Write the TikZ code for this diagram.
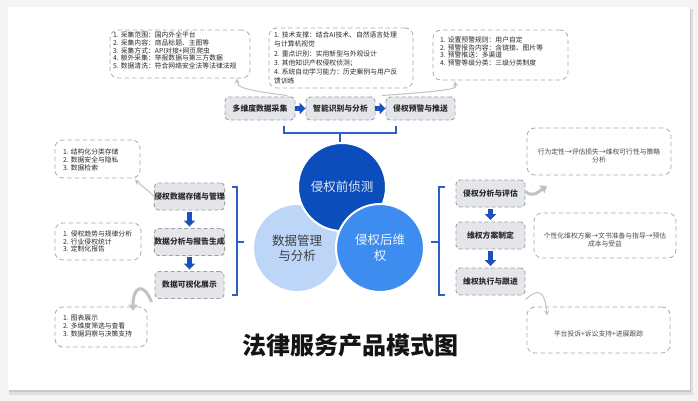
\documentclass[tikz,border=0pt]{standalone}
\usepackage{fontspec}
\setmainfont{Noto Sans CJK SC}
\usetikzlibrary{arrows.meta}
\definecolor{boxfill}{HTML}{E4E6EA}
\definecolor{boxline}{HTML}{9DA2A8}
\definecolor{noteline}{HTML}{A8ACB1}
\definecolor{txt}{HTML}{2A2A2A}
\definecolor{arrowblue}{HTML}{1C50BE}
\definecolor{bracketblue}{HTML}{2B61C6}
\definecolor{cdark}{HTML}{0B4DBB}
\definecolor{cmid}{HTML}{3D8CF0}
\definecolor{clight}{HTML}{BDD6F8}
\definecolor{curvegray}{HTML}{BFC2C6}
\definecolor{bggray}{HTML}{F4F4F4}
\definecolor{shadowgray}{HTML}{C9C9C9}
\begin{document}
\begin{tikzpicture}[x=1pt,y=-1pt,
  stepbox/.style={draw=boxline, fill=boxfill, dash pattern=on 4pt off 2.5pt, line width=0.9pt,
    rounded corners=4pt, minimum width=69pt, minimum height=26pt, inner sep=0pt,
    font=\bfseries\fontsize{7.8}{9}\selectfont, text=txt},
  notebox/.style={draw=noteline, fill=white, dash pattern=on 4.5pt off 3pt, line width=0.8pt,
    rounded corners=8pt, inner sep=0pt},
  notetext/.style={font=\fontsize{6.8}{7.8}\selectfont, text=txt, inner sep=0pt, align=left},
  notetextc/.style={font=\fontsize{6.8}{8.2}\selectfont, text=txt!85, inner sep=0pt, align=center},
  blockarrow/.style={line width=4.2pt, draw=arrowblue, -{Triangle[length=6pt,width=11pt]}},
  bracket/.style={draw=bracketblue, line width=1.2pt},
  thincurve/.style={draw=curvegray, line width=1pt, -{Stealth[length=5pt,width=5pt]}},
  thickcurve/.style={draw=curvegray, line width=3pt, -{Triangle[length=6pt,width=9pt]}},
  bigcircle/.style={circle, minimum size=88pt, draw=white, line width=2pt, inner sep=0pt,
    align=center, font=\fontsize{12.5}{15.5}\selectfont}
]
% background and card
\fill[bggray] (0,0) rectangle (698,401);
\fill[shadowgray!60] (9,9) rectangle (693,395);
\fill[shadowgray] (9,9) rectangle (691,392);
\fill[white] (8,7) rectangle (690,390);

% top notes
\node[notebox, minimum width=140pt, minimum height=48pt] (nt1) at (180,54) {};
\node[notetext, anchor=west] (tt1) at (113,50.5) {1. 采集范围：国内外全平台\\2. 采集内容：商品标题、主图等\\3. 采集方式：API对接+网页爬虫\\4. 额外采集：举报数据与第三方数据\\5. 数据清洗：符合网络安全法等法律法规};
\node[notebox, minimum width=144pt, minimum height=60pt] (nt2) at (341,58) {};
\node[notetext, anchor=west, font=\fontsize{6.8}{9.2}\selectfont] (tt2) at (274,58) {1. 技术支撑：结合AI技术、自然语言处理\\与计算机视觉\\2. 重点识别：实用新型与外观设计\\3. 其他知识产权侵权侦测；\\4. 系统自动学习能力：历史案例与用户反\\馈训练};
\node[notebox, minimum width=135pt, minimum height=50pt] (nt3) at (500.5,55) {};
\node[notetext, anchor=west] (tt3) at (440,51.5) {1. 设置预警规则：用户自定\\2. 预警报告内容：含链接、图片等\\3. 预警推送：多渠道\\4. 预警等级分类：三级分类制度};

% top boxes
\node[stepbox, minimum width=70pt, minimum height=23pt] (b1) at (260,108.5) {多维度数据采集};
\node[stepbox, minimum height=23pt] (b2) at (340.5,108.5) {智能识别与分析};
\node[stepbox, minimum height=23pt] (b3) at (420.5,108.5) {侵权预警与推送};
\draw[blockarrow] (b1.east) -- (b2.west);
\draw[blockarrow] (b2.east) -- (b3.west);

% circles
\node[bigcircle, fill=clight, text=txt!90] (c2) at (297,248) {数据管理\\与分析};
\node[bigcircle, fill=cdark, text=white!88!cdark] (c1) at (342,187) {侵权前侦测};
\node[bigcircle, fill=cmid, text=white!92!cmid] (c3) at (380,248) {侵权后维\\权};

% top bracket
\coordinate (tb1) at (284,126);
\coordinate (tb2) at (396,126);
\coordinate (tbm) at (340,133);
\draw[bracket] (tb1) -- (284,133) -- (396,133) -- (tb2);
\draw[bracket] (tbm) -- (340,142);

% left side
\node[stepbox, minimum height=27pt] (l1) at (189.5,196.5) {侵权数据存储与管理};
\node[stepbox, minimum height=27pt] (l2) at (189.5,242) {数据分析与报告生成};
\node[stepbox, minimum height=27pt] (l3) at (189.5,285) {数据可视化展示};
\draw[blockarrow, shorten <=1.5pt, shorten >=1.5pt] (l1.south) -- (l2.north);
\draw[blockarrow, shorten <=1.5pt, shorten >=1.5pt] (l2.south) -- (l3.north);

\node[notebox, minimum width=85pt, minimum height=38pt] (nl1) at (97.5,159) {};
\node[notetext, anchor=west] (tl1) at (63,160) {1. 结构化分类存储\\2. 数据安全与隐私\\3. 数据检索};
\node[notebox, minimum width=86pt, minimum height=37pt] (nl2) at (98,241.5) {};
\node[notetext, anchor=west] (tl2) at (63,241.5) {1. 侵权趋势与规律分析\\2. 行业侵权统计\\3. 定制化报告};
\node[notebox, minimum width=92pt, minimum height=40pt] (nl3) at (101,327) {};
\node[notetext, anchor=west] (tl3) at (63,326) {1. 图表展示\\2. 多维度筛选与查看\\3. 数据洞察与决策支持};

\coordinate (lbt) at (232,187);
\coordinate (lbb) at (232,295);
\draw[bracket] (lbt) -- (237,187) -- (237,295) -- (lbb);
\draw[bracket] (237,242) -- (244,242);

% right side
\node[stepbox, minimum height=27pt] (r1) at (490.5,193.5) {侵权分析与评估};
\node[stepbox, minimum height=27pt] (r2) at (490.5,235.5) {维权方案制定};
\node[stepbox, minimum height=27pt] (r3) at (490.5,281.5) {维权执行与跟进};
\draw[blockarrow, shorten <=1.5pt, shorten >=1.5pt] (r1.south) -- (r2.north);
\draw[blockarrow, shorten <=1.5pt, shorten >=1.5pt] (r2.south) -- (r3.north);

\node[notebox, minimum width=144pt, minimum height=47pt] (nr1) at (599,151.5) {};
\node[notetextc] (tr1) at (599,156) {行为定性→评估损失→维权可行性与策略\\分析};
\node[notebox, minimum width=142pt, minimum height=45pt] (nr2) at (605,235.5) {};
\node[notetextc] (tr2) at (605,240) {个性化维权方案→文书准备与指导→预估\\成本与受益};
\node[notebox, minimum width=143pt, minimum height=46pt] (nr3) at (598.5,330) {};
\node[notetextc] (tr3) at (598.5,334) {平台投诉+诉讼支持+进展跟踪};

\coordinate (rbt) at (445,187);
\coordinate (rbb) at (445,295);
\draw[bracket] (rbt) -- (439,187) -- (439,295) -- (rbb);
\draw[bracket] (439,242) -- (431,242);

% gray curved arrows
\draw[thincurve] (b1.north east) ++(-8,-1) .. controls (243,90) and (237,87) .. (nt1.south east -| 237,0);
\draw[thincurve] ([xshift=-4pt,yshift=1pt]b3.north west) .. controls (462,90) and (456,88) .. ([yshift=-1pt]nt3.south west -| 455,0);
\draw[thincurve] (l1.west) .. controls (146,188) and (140,185) .. ([yshift=-1pt]nl1.south east -| 135,0);
\draw[thickcurve] ([xshift=-3pt,yshift=-3pt]l3.south west) .. controls (143,281) and (133,287) .. ([yshift=-4pt]nl3.north -| 133,0);
\draw[thickcurve] ([yshift=2pt]r1.east) .. controls (533,198) and (538,192) .. (547,186);
\draw[thincurve] ([yshift=-4pt]r3.south east) .. controls (538,288) and (545,290) .. ([yshift=-9pt]nr3.north west -| 547,0);

% title
\node[font=\bfseries\fontsize{24}{26}\selectfont, text=black!92] (title) at (350,345) {法律服务产品模式图};
\end{tikzpicture}
\end{document}
